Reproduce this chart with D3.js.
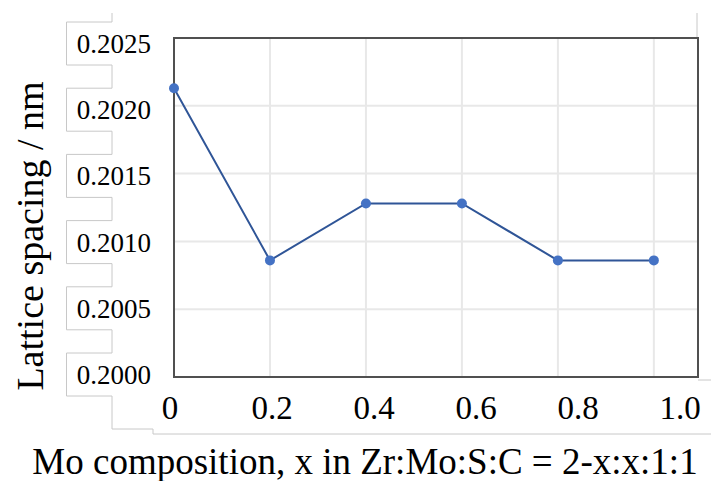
<!DOCTYPE html>
<html>
<head>
<meta charset="utf-8">
<script src="https://cdn.jsdelivr.net/npm/d3@7"></script>
<style>
  body { margin: 0; background: #fff; }
</style>
</head>
<body>
<div id="chart"></div>
<script>
// composition x and lattice spacing (nm)
const composition = [0, 0.2, 0.4, 0.6, 0.8, 1.0];
const spacing = [0.20213, 0.20086, 0.20128, 0.20128, 0.20086, 0.20086];
const xTicks = [0, 0.2, 0.4, 0.6, 0.8, 1.0];
const xTickLabels = ['0', '0.2', '0.4', '0.6', '0.8', '1.0'];
const yTicks = [0.2000, 0.2005, 0.2010, 0.2015, 0.2020, 0.2025];

const width = 711;
const height = 481;
const plot = { left: 174, right: 698, top: 38, bottom: 377 };
const serif = "'Liberation Serif', 'Times New Roman', Times, 'DejaVu Serif', serif";

const svg = d3.select('#chart').append('svg')
  .attr('width', width)
  .attr('height', height)
  .attr('font-family', serif);

const x = d3.scaleLinear().domain([0, 1.092]).range([plot.left, plot.right]);
const y = d3.scaleLinear().domain([0.2000, 0.2025]).range([plot.bottom, plot.top]);

// the tick labels were placed by hand in the original, a bit off the grid
const xLab = d3.scaleLinear().domain([0, 1]).range([170, 680]);
const yLab = d3.scaleLinear().domain([0.2000, 0.2025]).range([384, 53]);

// gridlines
const grid = svg.append('g').attr('stroke', '#e8e8e8').attr('stroke-width', 2);
grid.selectAll('.gx').data(xTicks.slice(1))
  .enter().append('line')
  .attr('x1', d => x(d)).attr('x2', d => x(d))
  .attr('y1', plot.top).attr('y2', plot.bottom);
grid.selectAll('.gy').data(yTicks.slice(1, -1))
  .enter().append('line')
  .attr('x1', plot.left).attr('x2', plot.right)
  .attr('y1', d => y(d)).attr('y2', d => y(d));

// outline left over from the label text boxes
const boxL = 66.5, boxR = 112;
let outline = `M${boxR},13`;
yTicks.slice().reverse().forEach(t => {
  const b = yLab(t);
  outline += `L${boxR},${b - 31}L${boxL},${b - 31}L${boxL},${b + 12}L${boxR},${b + 12}`;
});
outline += `L${boxR},429L153,429L153,434L711,434`;
svg.append('path')
  .attr('d', outline)
  .attr('fill', 'none')
  .attr('stroke', '#c8c8c8')
  .attr('stroke-width', 1);
svg.append('path')
  .attr('d', `M697,13L697,${plot.top}M${plot.right},380L711,380`)
  .attr('fill', 'none')
  .attr('stroke', '#c8c8c8')
  .attr('stroke-width', 1);

// plot frame
svg.append('rect')
  .attr('x', plot.left).attr('y', plot.top)
  .attr('width', plot.right - plot.left)
  .attr('height', plot.bottom - plot.top)
  .attr('fill', 'none')
  .attr('stroke', '#505050')
  .attr('stroke-width', 2);

// series
const points = composition.map((c, i) => [c, spacing[i]]);
const line = d3.line().x(d => x(d[0])).y(d => y(d[1]));
svg.append('path')
  .datum(points)
  .attr('d', line)
  .attr('fill', 'none')
  .attr('stroke', '#2f5597')
  .attr('stroke-width', 2);
svg.selectAll('.pt').data(points)
  .enter().append('circle')
  .attr('cx', d => x(d[0]))
  .attr('cy', d => y(d[1]))
  .attr('r', 5)
  .attr('fill', '#4472c4');

// tick labels
svg.selectAll('.xl').data(xTicks)
  .enter().append('text')
  .attr('x', d => xLab(d))
  .attr('y', 419)
  .attr('text-anchor', 'middle')
  .attr('font-size', 33)
  .text((d, i) => xTickLabels[i]);
svg.selectAll('.yl').data(yTicks)
  .enter().append('text')
  .attr('x', 151)
  .attr('y', d => yLab(d))
  .attr('text-anchor', 'end')
  .attr('font-size', 27)
  .text(d => d.toFixed(4));

// axis titles
svg.append('text')
  .attr('x', 365)
  .attr('y', 474)
  .attr('text-anchor', 'middle')
  .attr('font-size', 37)
  .text('Mo composition, x in Zr:Mo:S:C = 2-x:x:1:1');
svg.append('text')
  .attr('transform', 'translate(43,236) rotate(-90)')
  .attr('text-anchor', 'middle')
  .attr('font-size', 38)
  .text('Lattice spacing / nm');
</script>
</body>
</html>
